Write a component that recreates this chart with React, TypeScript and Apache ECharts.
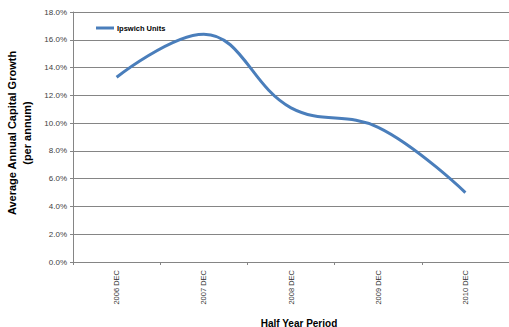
import React, { useEffect, useRef } from "react";
import * as echarts from "echarts";

const periods = ["2006 DEC", "2007 DEC", "2008 DEC", "2009 DEC", "2010 DEC"];
const ipswichUnits = [13.3, 16.4, 11.1, 9.7, 5.0];
const yTicks = { min: 0, max: 18, interval: 2 };

const FONT = "Liberation Sans, Arial, sans-serif";

export default function App() {
  const ref = useRef<HTMLDivElement>(null);

  useEffect(() => {
    if (!ref.current) return;
    const chart = echarts.init(ref.current, null, { renderer: "svg" });
    chart.setOption({
      animation: false,
      backgroundColor: "#ffffff",
      textStyle: { fontFamily: FONT },
      grid: { left: 73, top: 12, width: 438, height: 250, containLabel: false },
      legend: {
        left: 91,
        top: 19,
        icon: "rect",
        itemWidth: 18,
        itemHeight: 3,
        itemGap: 3,
        textStyle: { fontSize: 7.5, fontWeight: "bold", color: "#000", fontFamily: FONT, padding: [0, 0, 0, -2] },
        data: ["Ipswich Units"],
      },
      xAxis: {
        type: "category",
        data: periods,
        boundaryGap: true,
        axisLine: { lineStyle: { color: "#858585", width: 1 } },
        axisTick: { show: true, length: 3, alignWithLabel: false, lineStyle: { color: "#858585" } },
        axisLabel: { rotate: 90, fontSize: 7.5, color: "#333", margin: 8, fontFamily: FONT },
        splitLine: { show: false },
      },
      yAxis: {
        type: "value",
        min: yTicks.min,
        max: yTicks.max,
        interval: yTicks.interval,
        axisLine: { show: true, lineStyle: { color: "#858585", width: 1 } },
        axisTick: { show: true, length: 3, lineStyle: { color: "#858585" } },
        axisLabel: {
          fontSize: 8,
          color: "#404040",
          margin: 6,
          fontFamily: FONT,
          formatter: (v: number) => v.toFixed(1) + "%",
        },
        splitLine: { show: true, lineStyle: { color: "#858585", width: 1 } },
      },
      graphic: [
        {
          type: "text",
          x: 4,
          y: 133,
          rotation: Math.PI / 2,
          style: {
            text: "Average Annual Capital Growth\n(per annum)",
            fontSize: 11,
            fontWeight: "bold",
            fontFamily: FONT,
            fill: "#000",
            align: "center",
            verticalAlign: "top",
            lineHeight: 15,
          },
        },
        {
          type: "text",
          x: 299,
          y: 323,
          style: {
            text: "Half Year Period",
            fontSize: 10,
            fontWeight: "bold",
            fontFamily: FONT,
            fill: "#000",
            align: "center",
            verticalAlign: "middle",
          },
        },
      ],
      series: [
        {
          name: "Ipswich Units",
          type: "line",
          data: ipswichUnits,
          smooth: 0.4,
          showSymbol: false,
          symbol: "none",
          lineStyle: { color: "#4a7ebb", width: 3 },
          itemStyle: { color: "#4a7ebb" },
        },
      ],
    });
    return () => chart.dispose();
  }, []);

  return (
    <div
      ref={ref}
      style={{ width: 509, height: 327, position: "absolute", left: 0, top: 0 }}
    />
  );
}
